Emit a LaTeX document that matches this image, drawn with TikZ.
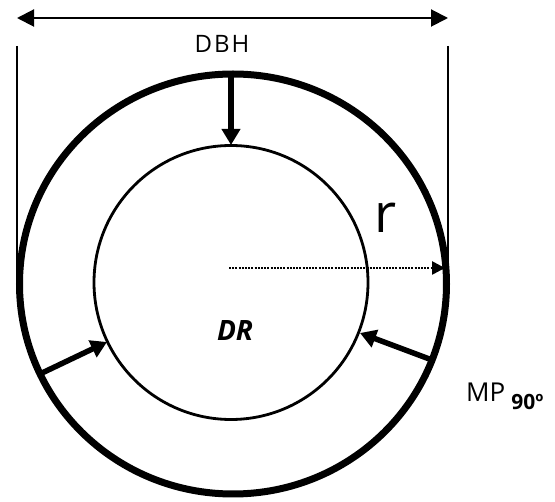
\documentclass[tikz,border=0pt]{standalone}
\usepackage{fontspec}
\setmainfont{Open Sans}
\usetikzlibrary{arrows.meta}

\begin{document}
\begin{tikzpicture}[x=1pt,y=-1pt,
    bigtip/.style={-{Triangle[length=16pt,width=18pt]}},
    pusharrow/.style={line width=5.5pt,bigtip}]
            \useasboundingbox (0,0) rectangle (555,502);

            % dimension line over the stem
            \coordinate (dimL) at (17,18);
            \coordinate (dimR) at (448,18);
            \coordinate (sideL) at (17,46);
            \coordinate (sideLb) at (17,284);
            \coordinate (sideR) at (448,46);
            \coordinate (sideRb) at (448,284);
            \draw[line width=2pt,{Triangle[length=17pt,width=17pt]}-{Triangle[length=17pt,width=17pt]}] (dimL) -- (dimR);
            \draw[line width=2pt] (sideL) -- (sideLb);
            \draw[line width=2pt] (sideR) -- (sideRb);

            % bark and wood
            \draw[line width=7pt] (233,284) ellipse (213.5 and 210);
            \draw[line width=2.8pt] (231,282.5) circle (137);

            % radius
            \coordinate (ctr) at (229,268);
            \coordinate (edge) at (445,268);
            \draw[line width=2.6pt,dash pattern=on 2pt off 1.2pt,-{Triangle[length=13pt,width=13pt]}] (ctr) -- (edge);

            % bark thickness arrows
            \coordinate (topO) at (231,74);
            \coordinate (topI) at (231,145);
            \coordinate (leftO) at (42,373);
            \coordinate (leftI) at (107,342);
            \coordinate (rightO) at (432,360);
            \coordinate (rightI) at (360,333);
            \draw[pusharrow] (topO) -- (topI);
            \draw[pusharrow] (leftO) -- (leftI);
            \draw[pusharrow] (rightO) -- (rightI);

            \node[anchor=base] (dbh) at (222,53) {\fontsize{24}{24}\selectfont\addfontfeature{LetterSpace=8}DBH};
            \node[anchor=base] (rlab) at (386,233) {\fontsize{54}{54}\selectfont r};
            \node[anchor=base] (dr) at (235,341) {\fontsize{28}{28}\selectfont\bfseries\itshape DR};
            \node[anchor=base west,inner sep=0pt] (mp) at (466,402) {\fontsize{26}{26}\selectfont MP\hspace{6pt}\raisebox{-8pt}{\fontsize{21}{21}\selectfont\bfseries 90º}};
\end{tikzpicture}
\end{document}
